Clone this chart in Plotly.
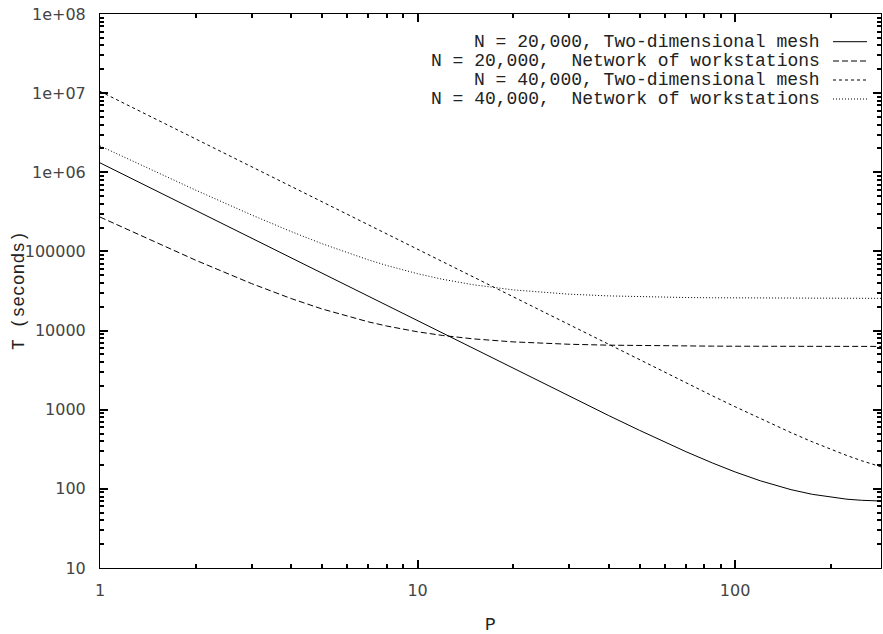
import math
import plotly.graph_objects as go

# Number of processors
P = [1, 1.5, 2, 3, 4, 5, 6, 7, 8, 10, 12, 15, 20, 25, 30, 40, 50, 60, 70, 85,
     100, 120, 150, 175, 200, 225, 250, 270, 288]

# Execution time (seconds)
mesh_20k = [1316000, 584900, 329000, 146200, 82260, 52650, 36560, 26870, 20570, 13170,
            9150, 5861, 3304, 2122, 1480, 843, 549, 390, 295, 211.6,
            163.6, 126.5, 97.7, 85.3, 78.2, 74.0, 71.7, 70.6, 70.2]
now_20k = [272000, 129300, 77530, 39270, 25370, 18770, 15130, 12890, 11410, 9646,
           8666, 7848, 7196, 6887, 6715, 6540, 6457, 6411, 6383, 6357,
           6342, 6330, 6320, 6315, 6311, 6309, 6307, 6306, 6306]
mesh_40k = [10530000, 4680000, 2632500, 1170000, 658100, 421200, 292500, 214900, 164500, 105300,
            73140, 46810, 26340, 16870, 11720, 6604, 4238, 2954, 2180, 1492,
            1090, 771.8, 513, 392.7, 315, 263.5, 227, 205.2, 190]
now_40k = [2151500, 1009800, 595500, 289300, 178100, 125300, 96130, 78250, 66380, 52280,
           44430, 37890, 32670, 30190, 28820, 27420, 26760, 26390, 26160, 25960,
           25840, 25740, 25660, 25620, 25590, 25570, 25560, 25550, 25545]

series_names = ["N = 20,000, Two-dimensional mesh",
                "N = 20,000,  Network of workstations",
                "N = 40,000, Two-dimensional mesh",
                "N = 40,000,  Network of workstations"]
series_data = [mesh_20k, now_20k, mesh_40k, now_40k]
dashes = ["solid", "6px,3px", "3px,3px", "1px,2px"]

x_major = [1, 10, 100]
x_major_text = ["1", "10", "100"]
y_major = [10, 100, 1000, 10000, 100000, 1e6, 1e7, 1e8]
y_major_text = ["10", "100", "1000", "10000", "100000", "1e+06", "1e+07", "1e+08"]

x_minor = [m * d for d in [1, 10, 100] for m in range(2, 10) if m * d < 288]

W, H = 883, 634
L, R, T, B = 100, 2, 14, 66
pw, ph = W - L - R, H - T - B

fig = go.Figure()
for name, vals, dash in zip(series_names, series_data, dashes):
    fig.add_trace(go.Scatter(x=P, y=vals, mode="lines", name=name,
                             line=dict(color="black", width=1, dash=dash),
                             showlegend=False, hoverinfo="skip"))

mono = "Liberation Mono, Courier New, monospace"
tickfont = dict(family="DejaVu Sans", size=16, color="#444")

fig.update_xaxes(type="log", range=[0, math.log10(288)], showgrid=False,
                 showline=True, linecolor="black", mirror="allticks",
                 ticks="inside", ticklen=8, tickcolor="black", tickwidth=2,
                 tickmode="array", tickvals=x_major, ticktext=x_major_text,
                 tickfont=tickfont, ticklabelstandoff=8,
                 minor=dict(tickmode="array", tickvals=x_minor, ticks="inside", ticklen=4,
                            tickcolor="black", tickwidth=2, showgrid=False))
fig.update_yaxes(type="log", range=[1, 8], showgrid=False,
                 showline=True, linecolor="black", mirror="allticks",
                 ticks="inside", ticklen=8, tickcolor="black", tickwidth=2,
                 tickmode="array", tickvals=y_major, ticktext=y_major_text,
                 tickfont=tickfont, ticklabelstandoff=10,
                 minor=dict(ticks="inside", ticklen=4, dtick="D1",
                            tickcolor="black", tickwidth=2, showgrid=False))

def px_to_paper(xp, yp):
    return (xp - L) / pw, (H - B - yp) / ph

shapes = []
annotations = []
row_y = [41.7, 61.0, 80.0, 99.0]
for name, dash, yy in zip(series_names, dashes, row_y):
    ax_, ay_ = px_to_paper(822, yy)
    annotations.append(dict(x=ax_, y=ay_, xref="paper", yref="paper", text=name,
                            showarrow=False, xanchor="right", yanchor="middle",
                            font=dict(family=mono, size=18, color="#222")))
    x0, _ = px_to_paper(833, yy)
    x1, _ = px_to_paper(867, yy)
    shapes.append(dict(type="line", xref="paper", yref="paper", x0=x0, x1=x1, y0=ay_, y1=ay_,
                       line=dict(color="black", width=1, dash=dash)))

ax, ay = px_to_paper(19, 291)
annotations.append(dict(x=ax, y=ay, xref="paper", yref="paper", text="T (seconds)",
                        textangle=-90, showarrow=False, xanchor="center", yanchor="middle",
                        font=dict(family=mono, size=18, color="#222")))
bx, by = px_to_paper(491, 625)
annotations.append(dict(x=bx, y=by, xref="paper", yref="paper", text="P",
                        showarrow=False, xanchor="center", yanchor="middle",
                        font=dict(family=mono, size=18, color="#222")))

fig.update_layout(width=W, height=H, margin=dict(l=L, r=R, t=T, b=B),
                  plot_bgcolor="white", hovermode=False,
                  annotations=annotations, shapes=shapes, showlegend=False)

fig.write_html("out.html", config={"displayModeBar": False},
               post_script="document.body.style.margin='0';document.body.style.overflow='hidden';")
